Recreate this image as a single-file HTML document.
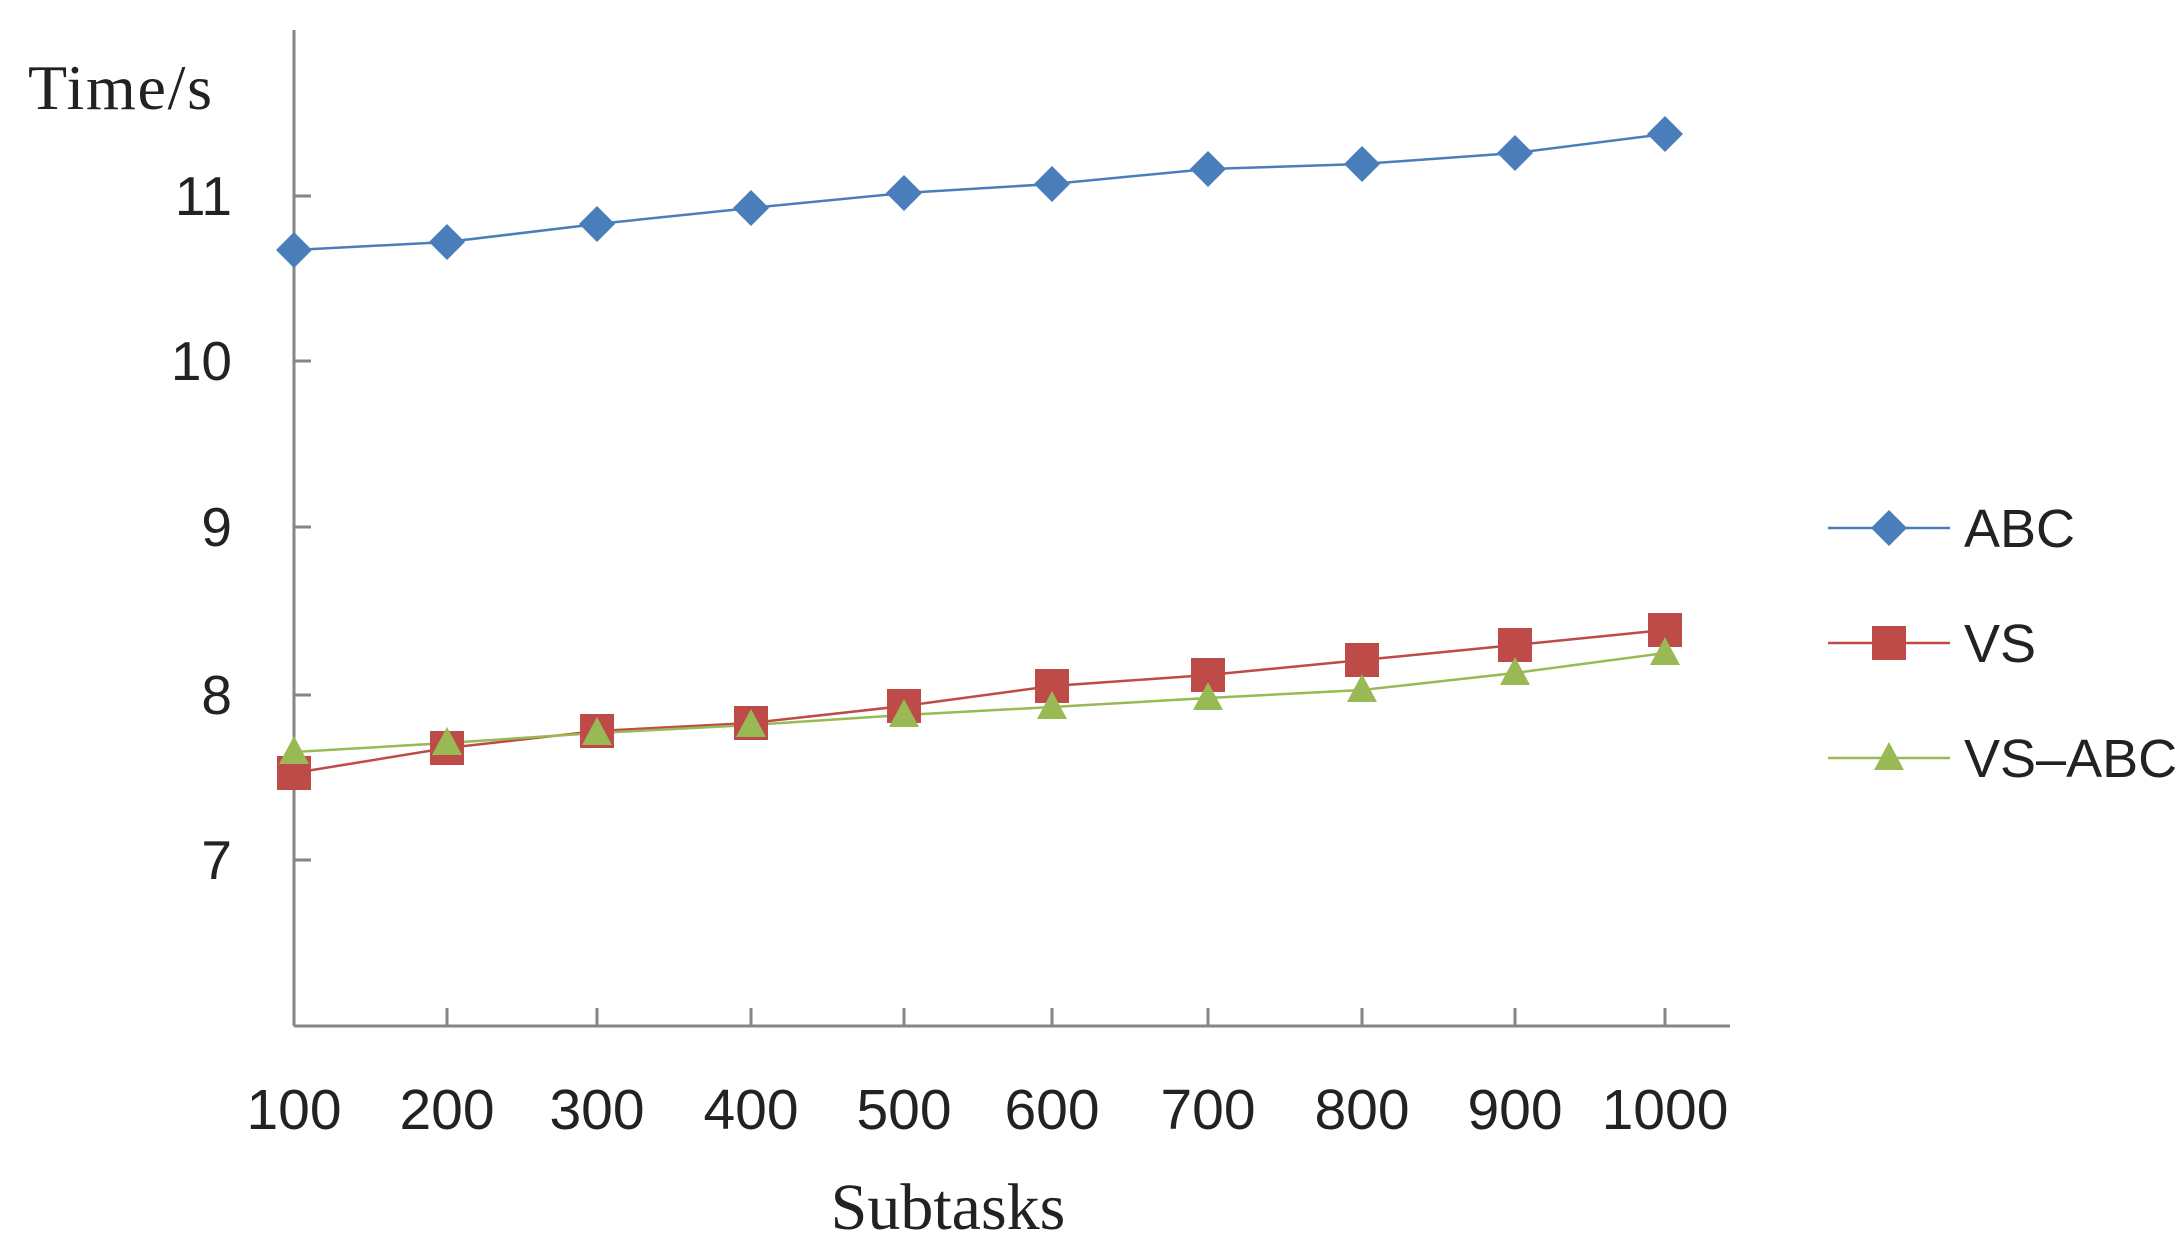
<!DOCTYPE html>
<html><head><meta charset="utf-8"><style>html,body{margin:0;padding:0;background:#fff}</style></head>
<body>
<svg width="2180" height="1252" viewBox="0 0 2180 1252" xmlns="http://www.w3.org/2000/svg">
<rect width="2180" height="1252" fill="#fff"/>
<g stroke="#868686" stroke-width="3" fill="none">
<line x1="294" y1="30" x2="294" y2="1026"/>
<line x1="294" y1="1026" x2="1730" y2="1026"/>
<line x1="294" y1="196" x2="311" y2="196"/>
<line x1="294" y1="361" x2="311" y2="361"/>
<line x1="294" y1="527" x2="311" y2="527"/>
<line x1="294" y1="695" x2="311" y2="695"/>
<line x1="294" y1="860" x2="311" y2="860"/>
<line x1="447" y1="1026" x2="447" y2="1008"/>
<line x1="597" y1="1026" x2="597" y2="1008"/>
<line x1="751" y1="1026" x2="751" y2="1008"/>
<line x1="904" y1="1026" x2="904" y2="1008"/>
<line x1="1052" y1="1026" x2="1052" y2="1008"/>
<line x1="1208" y1="1026" x2="1208" y2="1008"/>
<line x1="1362" y1="1026" x2="1362" y2="1008"/>
<line x1="1515" y1="1026" x2="1515" y2="1008"/>
<line x1="1665" y1="1026" x2="1665" y2="1008"/>
</g>
<g font-family="Liberation Sans, sans-serif" font-size="55" fill="#222" text-anchor="end">
<text x="232" y="215">11</text>
<text x="232" y="380">10</text>
<text x="232" y="546">9</text>
<text x="232" y="714">8</text>
<text x="232" y="879">7</text>
</g>
<g font-family="Liberation Sans, sans-serif" font-size="57" fill="#222" text-anchor="middle">
<text x="294" y="1129">100</text>
<text x="447" y="1129">200</text>
<text x="597" y="1129">300</text>
<text x="751" y="1129">400</text>
<text x="904" y="1129">500</text>
<text x="1052" y="1129">600</text>
<text x="1208" y="1129">700</text>
<text x="1362" y="1129">800</text>
<text x="1515" y="1129">900</text>
<text x="1665" y="1129">1000</text>
</g>
<text x="28" y="109" font-family="Liberation Serif, serif" font-size="64" fill="#222" textLength="184">Time/s</text>
<text x="948" y="1229" font-family="Liberation Serif, serif" font-size="66" fill="#222" text-anchor="middle">Subtasks</text>

<polyline fill="none" stroke="#4a7ebb" stroke-width="2.5" points="294,250 447,242 597,224 751,208 904,193 1052,184 1208,169 1362,164 1515,153 1665,134"/>
<polyline fill="none" stroke="#be4b48" stroke-width="2.5" points="294,773 447,748 597,731 751,723 904,706 1052,686 1208,675 1362,660 1515,645 1665,630"/>
<polyline fill="none" stroke="#98b954" stroke-width="2.5" points="294,752 447,743 597,733 751,725 904,715 1052,707 1208,698 1362,690 1515,673 1665,653"/>

<g fill="#4a7ebb">
<path d="M294,232 l18,18 -18,18 -18,-18z"/><path d="M447,224 l18,18 -18,18 -18,-18z"/><path d="M597,206 l18,18 -18,18 -18,-18z"/><path d="M751,190 l18,18 -18,18 -18,-18z"/><path d="M904,175 l18,18 -18,18 -18,-18z"/><path d="M1052,166 l18,18 -18,18 -18,-18z"/><path d="M1208,151 l18,18 -18,18 -18,-18z"/><path d="M1362,146 l18,18 -18,18 -18,-18z"/><path d="M1515,135 l18,18 -18,18 -18,-18z"/><path d="M1665,116 l18,18 -18,18 -18,-18z"/>
</g>
<g fill="#be4b48">
<rect x="277" y="756" width="34" height="34"/><rect x="430" y="731" width="34" height="34"/><rect x="580" y="714" width="34" height="34"/><rect x="734" y="706" width="34" height="34"/><rect x="887" y="689" width="34" height="34"/><rect x="1035" y="669" width="34" height="34"/><rect x="1191" y="658" width="34" height="34"/><rect x="1345" y="643" width="34" height="34"/><rect x="1498" y="628" width="34" height="34"/><rect x="1648" y="613" width="34" height="34"/>
</g>
<g fill="#98b954">
<path d="M294,736 l15,28 -30,0z"/><path d="M447,727 l15,28 -30,0z"/><path d="M597,717 l15,28 -30,0z"/><path d="M751,709 l15,28 -30,0z"/><path d="M904,699 l15,28 -30,0z"/><path d="M1052,691 l15,28 -30,0z"/><path d="M1208,682 l15,28 -30,0z"/><path d="M1362,674 l15,28 -30,0z"/><path d="M1515,657 l15,28 -30,0z"/><path d="M1665,637 l15,28 -30,0z"/>
</g>

<line x1="1828" y1="528" x2="1950" y2="528" stroke="#4a7ebb" stroke-width="2.5"/>
<path d="M1889,510 l18,18 -18,18 -18,-18z" fill="#4a7ebb"/>
<line x1="1828" y1="643" x2="1950" y2="643" stroke="#be4b48" stroke-width="2.5"/>
<rect x="1872" y="626" width="34" height="34" fill="#be4b48"/>
<line x1="1828" y1="758" x2="1950" y2="758" stroke="#98b954" stroke-width="2.5"/>
<path d="M1889,742 l15,28 -30,0z" fill="#98b954"/>
<g font-family="Liberation Sans, sans-serif" font-size="54" fill="#222">
<text x="1964" y="547">ABC</text>
<text x="1964" y="662">VS</text>
<text x="1964" y="777">VS–ABC</text>
</g>
</svg>
</body></html>
